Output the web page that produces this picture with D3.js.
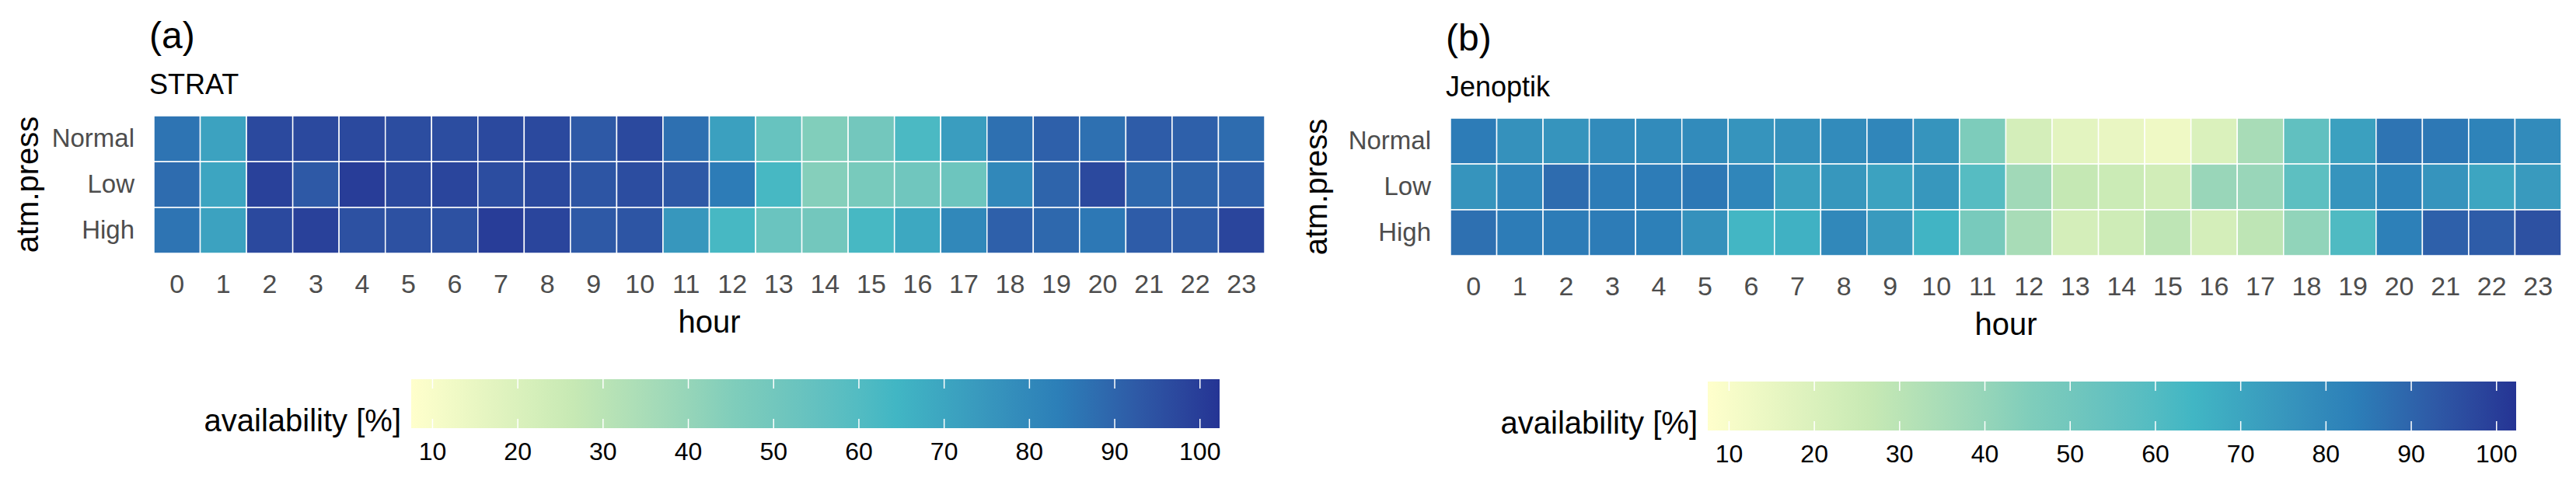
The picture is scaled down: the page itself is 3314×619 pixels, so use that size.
<html>
<script src="https://d3js.org/d3.v7.min.js"></script>
<style>
body {margin:0; background:#fff;}
</style>
<body>
<svg id="chart" width="3314" height="619"></svg>
<script>
// hours and pressure classes
const hours = ["0","1","2","3","4","5","6","7","8","9","10","11","12","13","14","15","16","17","18","19","20","21","22","23"];
const pressure = ["Normal","Low","High"];

// availability [%]
const stratNormal = [86,71,97,97,97,96,96,97,97,93,97,87,72,54,45,50,62,73,87,91,87,92,91,88];
const stratLow    = [88,70,99,93,100,97,98,96,97,94,96,93,84,63,44,48,51,52,80,90,97,89,90,91];
const stratHigh   = [86,71,97,99,95,95,95,100,98,93,94,75,63,53,50,63,69,80,91,89,85,92,92,98];

const jenNormal = [84,77,76,79,79,79,76,77,79,81,76,46,22,17,15,13,20,35,56,72,86,85,82,79];
const jenLow    = [76,81,88,84,84,85,81,72,75,71,75,59,37,27,25,23,39,39,57,76,82,76,70,74];
const jenHigh   = [87,84,84,84,83,77,64,66,80,74,65,48,35,22,24,29,22,29,41,61,83,91,92,95];

const legendTicks = [10,20,30,40,50,60,70,80,90,100];
const colorLimits = [7.5, 102.3];
const palette = ["#ffffcc","#c7e9b4","#7fcdbb","#41b6c4","#2c7fb8","#253494"];

const FONT = "'Liberation Sans', Arial, Helvetica, sans-serif";
const svg = d3.select("#chart");

const stops = palette.map((c, i) => colorLimits[0] + i * (colorLimits[1] - colorLimits[0]) / (palette.length - 1));
const color = d3.scaleLinear().domain(stops).range(palette).interpolate(d3.interpolateLab);

const panels = [
  {tag: "(a)", name: "STRAT", rows: [stratNormal, stratLow, stratHigh], x: 198, y: 149, ylab: -149, id: "ga"},
  {tag: "(b)", name: "Jenoptik", rows: [jenNormal, jenLow, jenHigh], x: 1866, y: 152, ylab: -159, id: "gb"}
];

const W = 1429, H = 177;

panels.forEach(p => {
  const g = svg.append("g").attr("transform", `translate(${p.x},${p.y})`);

  const x = d3.scaleBand().domain(hours).range([0, W]);
  const y = d3.scaleBand().domain(pressure).range([0, H]);

  const cells = [];
  pressure.forEach((r, i) => hours.forEach((h, j) => cells.push({r: r, h: h, v: p.rows[i][j]})));

  g.selectAll("rect.cell")
    .data(cells)
    .join("rect")
    .attr("class", "cell")
    .attr("x", d => x(d.h))
    .attr("y", d => y(d.r))
    .attr("width", x.bandwidth())
    .attr("height", y.bandwidth())
    .attr("fill", d => color(d.v))
    .attr("stroke", "#fff")
    .attr("stroke-width", 1.5);

  // axes
  const xa = g.append("g")
    .attr("transform", `translate(0,${H})`)
    .call(d3.axisBottom(x).tickSize(0).tickPadding(27));
  xa.select(".domain").remove();
  xa.attr("font-size", 34).attr("font-family", FONT);
  xa.selectAll("text").attr("fill", "#4d4d4d");

  const ya = g.append("g")
    .call(d3.axisLeft(y).tickSize(0).tickPadding(25));
  ya.select(".domain").remove();
  ya.attr("font-size", 33).attr("font-family", FONT);
  ya.selectAll("text").attr("fill", "#4d4d4d");

  // titles
  g.append("text").attr("x", -6).attr("y", -87)
    .attr("font-family", FONT).attr("font-size", 48).text(p.tag);
  g.append("text").attr("x", -6).attr("y", -28)
    .attr("font-family", FONT).attr("font-size", 36).text(p.name);

  g.append("text").attr("x", W / 2).attr("y", 279)
    .attr("text-anchor", "middle").attr("font-family", FONT).attr("font-size", 40).text("hour");

  g.append("text")
    .attr("transform", `translate(${p.ylab},${H / 2}) rotate(-90)`)
    .attr("text-anchor", "middle").attr("font-family", FONT).attr("font-size", 40).text("atm.press");

  // colour bar
  const lx = d3.scaleLinear().domain(colorLimits).range([331, 1371]);
  const grad = svg.append("defs").append("linearGradient").attr("id", "grad" + p.id)
    .attr("x1", "0%").attr("x2", "100%").attr("y1", "0%").attr("y2", "0%");
  d3.range(0, 1.0001, 0.05).forEach(t => {
    grad.append("stop").attr("offset", (t * 100) + "%")
      .attr("stop-color", color(colorLimits[0] + t * (colorLimits[1] - colorLimits[0])));
  });
  const lg = g.append("g").attr("transform", "translate(0,339)");
  lg.append("rect").attr("x", lx(colorLimits[0])).attr("y", 0)
    .attr("width", lx(colorLimits[1]) - lx(colorLimits[0])).attr("height", 63)
    .attr("fill", `url(#grad${p.id})`);
  lg.selectAll("line.tt").data(legendTicks).join("line").attr("class", "tt")
    .attr("x1", d => lx(d)).attr("x2", d => lx(d)).attr("y1", 0).attr("y2", 12)
    .attr("stroke", "#fff").attr("stroke-width", 1.5);
  lg.selectAll("line.tb").data(legendTicks).join("line").attr("class", "tb")
    .attr("x1", d => lx(d)).attr("x2", d => lx(d)).attr("y1", 51).attr("y2", 63)
    .attr("stroke", "#fff").attr("stroke-width", 1.5);
  lg.selectAll("text.lt").data(legendTicks).join("text").attr("class", "lt")
    .attr("x", d => lx(d)).attr("y", 104)
    .attr("text-anchor", "middle").attr("font-family", FONT).attr("font-size", 32)
    .text(d => d);
  lg.append("text").attr("x", 318).attr("y", 67)
    .attr("text-anchor", "end").attr("font-family", FONT).attr("font-size", 40)
    .text("availability [%]");
});
</script>
</body>
</html>
